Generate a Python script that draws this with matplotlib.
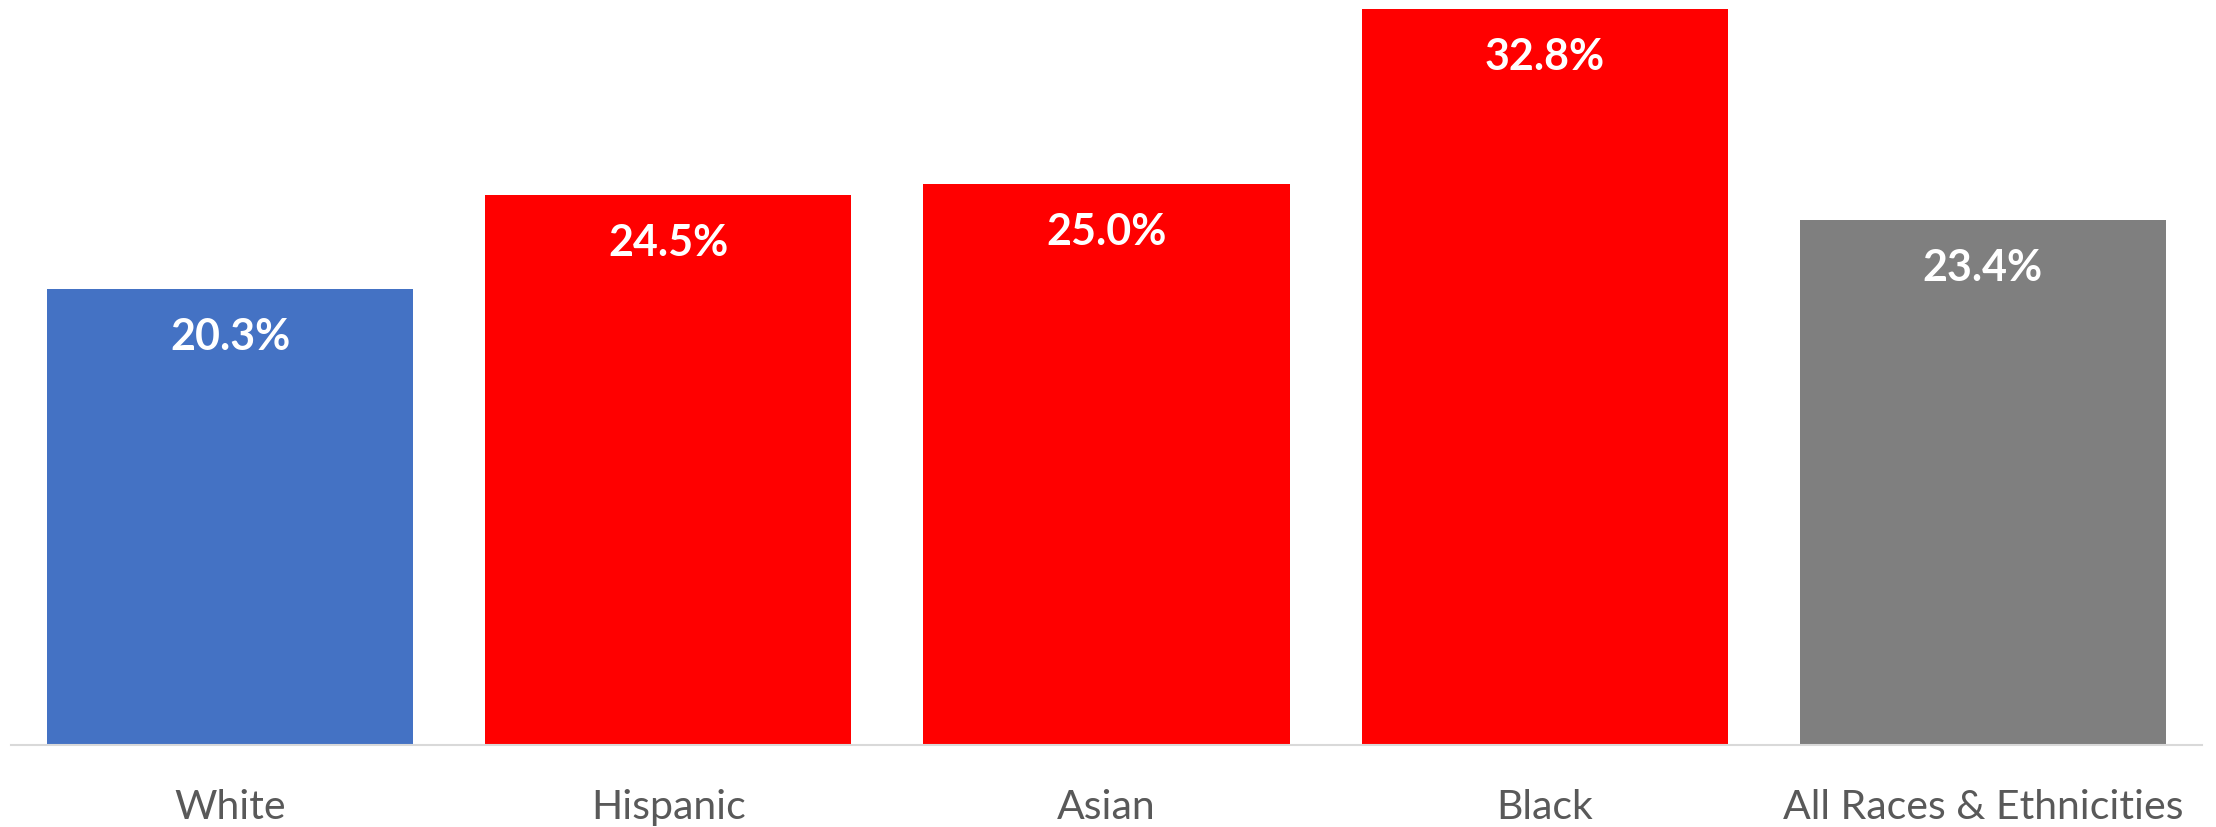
import matplotlib.pyplot as plt

groups = ['White', 'Hispanic', 'Asian', 'Black', 'All Races & Ethnicities']
rates = [20.3, 24.5, 25.0, 32.8, 23.4]
bar_colors = ['#4472C4', '#FF0000', '#FF0000', '#FF0000', '#7F7F7F']

fig = plt.figure(figsize=(22.16, 8.27), dpi=100)
ax = fig.add_axes([11 / 2216, 82 / 827, 2191 / 2216, 745 / 827])

x = range(len(groups))
bars = ax.bar(x, rates, width=0.836, color=bar_colors)

# value labels inside the top of each bar
for b, v in zip(bars, rates):
    ax.annotate(f'{v:.1f}%', (b.get_x() + b.get_width() / 2, v),
                xytext=(0, -20), textcoords='offset points',
                ha='center', va='top', color='white',
                fontsize=31, fontweight='bold', family='Lato')

ax.set_xlim(-0.5, 4.5)
ax.set_ylim(0, 33.2)
ax.set_yticks([])
ax.set_xticks(list(x))
ax.set_xticklabels(groups, fontsize=29.5, color='#595959', family='Lato')
ax.tick_params(axis='x', length=0, pad=32)

for side in ['top', 'right', 'left']:
    ax.spines[side].set_visible(False)
ax.spines['bottom'].set_color('#D9D9D9')
ax.spines['bottom'].set_linewidth(1.5)

fig.savefig('out.png', dpi=100)
